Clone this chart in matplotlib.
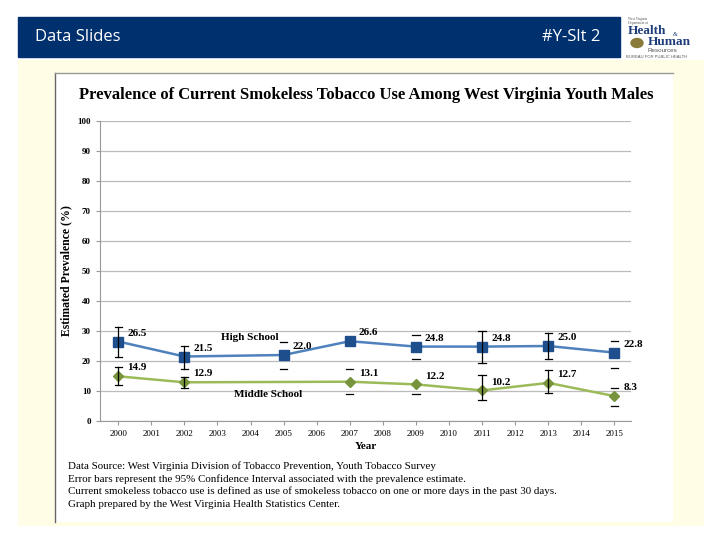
import numpy as np
import matplotlib.pyplot as plt
from matplotlib.patches import Rectangle

# survey data
years = np.arange(2000, 2016)
hs_years = [2000, 2002, 2005, 2007, 2009, 2011, 2013, 2015]
hs_vals = [26.5, 21.5, 22.0, 26.6, 24.8, 24.8, 25.0, 22.8]
hs_lo = [21.4, 17.5, 17.3, np.nan, 20.7, 19.3, 20.7, 17.7]
hs_hi = [31.3, 25.0, 26.3, np.nan, 28.7, 30.0, 29.3, 26.7]
ms_years = [2000, 2002, 2007, 2009, 2011, 2013, 2015]
ms_vals = [14.9, 12.9, 13.1, 12.2, 10.2, 12.7, 8.3]
ms_lo = [12.0, 11.0, 9.0, 9.0, 7.0, 9.3, 5.0]
ms_hi = [18.0, 14.7, 17.3, np.nan, 15.3, 17.0, 11.0]
# years where the bar line itself shows (others show only the caps)
full_bar_years = [2000, 2002, 2011, 2013]

notes = [
    "Data Source: West Virginia Division of Tobacco Prevention, Youth Tobacco Survey",
    "Error bars represent the 95% Confidence Interval associated with the prevalence estimate.",
    "Current smokeless tobacco use is defined as use of smokeless tobacco on one or more days in the past 30 days.",
    "Graph prepared by the West Virginia Health Statistics Center.",
]

serif = 'Liberation Serif'
fig = plt.figure(figsize=(7.2, 5.4), dpi=100)
W, H = 720, 540


def px(x, y):
    return x / W, 1 - y / H


# cream panel + white chart box
fig.patches.append(Rectangle((18 / W, 1 - 525 / H), 685 / W, 465 / H,
                             transform=fig.transFigure, color='#fffde6', zorder=0))
fig.patches.append(Rectangle((55 / W, 1 - 522 / H), 618 / W, 449 / H,
                             transform=fig.transFigure, facecolor='white',
                             edgecolor='none', zorder=0))
fig.add_artist(plt.Line2D([55 / W, 55 / W], [1 - 522 / H, 1 - 73 / H],
                          transform=fig.transFigure, color='#666666', lw=1))
fig.add_artist(plt.Line2D([55 / W, 673 / W], [1 - 73 / H, 1 - 73 / H],
                          transform=fig.transFigure, color='#999999', lw=1))

# header bar
fig.patches.append(Rectangle((18 / W, 1 - 57 / H), 602 / W, 40 / H,
                             transform=fig.transFigure, color='#00306e', zorder=1))
fig.text(*px(35, 37), "Data Slides", color='white', fontsize=12,
         family='Open Sans', va='center')
fig.text(*px(600, 37), "#Y-Slt 2", color='white', fontsize=12,
         family='Open Sans', va='center', ha='right')
# logo (text stand-in)
fig.text(*px(628, 21), "West Virginia\nDepartment of", color='#555555', fontsize=2.5,
         family=serif, va='center', linespacing=1)
fig.text(*px(628, 31), "Health", color='#1f3d7a', fontsize=9.5, weight='bold',
         family=serif, va='center')
fig.text(*px(673, 34), "&", color='#1f3d7a', fontsize=4.5, family=serif, va='center')
fig.text(*px(648, 42), "Human", color='#1f3d7a', fontsize=9.5, weight='bold',
         family=serif, va='center')
fig.add_artist(plt.Circle(px(637, 43), 6 / W, transform=fig.transFigure,
                          color='#8a7a3a'))
fig.text(*px(648, 51), "Resources", color='#555555', fontsize=4.5,
         family='Liberation Sans', va='center')
fig.text(*px(626, 57), "BUREAU FOR PUBLIC HEALTH", color='#555555', fontsize=3,
         family='Liberation Sans', va='center')

# chart
ax = fig.add_axes([100 / W, 1 - 421 / H, 531 / W, 300 / H])
ax.set_zorder(2)
ax.patch.set_alpha(0)
ax.set_xlim(1999.45, 2015.5)
ax.set_ylim(0, 100)
ax.set_yticks(range(0, 101, 10))
ax.set_xticks(years)
ax.grid(axis='y', color='#bbbbbb', lw=0.9)
ax.set_axisbelow(True)
for s in ['top', 'right']:
    ax.spines[s].set_visible(False)
for s in ['left', 'bottom']:
    ax.spines[s].set_color('#999999')
ax.tick_params(colors='#999999', labelcolor='black', labelsize=6.5, length=3)
for lab in ax.get_xticklabels() + ax.get_yticklabels():
    lab.set_family(serif)
for lab in ax.get_yticklabels():
    lab.set_weight('bold')

ax.plot(hs_years, hs_vals, color='#4f81bd', lw=1.8, marker='s', ms=7.5,
        mfc='#1f4e8c', mec='#1f4e8c', zorder=3)
ax.plot(ms_years, ms_vals, color='#9bbb59', lw=1.8, marker='D', ms=5,
        mfc='#77933c', mec='#77933c', zorder=3)


def draw_bars(xs, lo, hi):
    for x, l, h in zip(xs, lo, hi):
        for v in (l, h):
            if not np.isnan(v):
                ax.plot([x - 0.11, x + 0.11], [v, v], color='black', lw=0.9, zorder=4)
        if x in full_bar_years and not np.isnan(l) and not np.isnan(h):
            ax.plot([x, x], [l, h], color='black', lw=0.9, zorder=4)


draw_bars(hs_years, hs_lo, hs_hi)
draw_bars(ms_years, ms_lo, ms_hi)

for x, v in zip(hs_years, hs_vals):
    ax.annotate(f"{v:.1f}", (x, v), xytext=(6.5, 6), textcoords='offset points',
                fontsize=8, weight='bold', family=serif, va='center', ha='left')
for x, v in zip(ms_years, ms_vals):
    ax.annotate(f"{v:.1f}", (x, v), xytext=(6.5, 6), textcoords='offset points',
                fontsize=8, weight='bold', family=serif, va='center', ha='left')

ax.text(2003.1, 28.0, "High School", fontsize=8, weight='bold', family=serif,
        va='center')
ax.text(2003.5, 8.8, "Middle School", fontsize=8, weight='bold', family=serif,
        va='center')

ax.set_xlabel("Year", fontsize=8, weight='bold', family=serif, labelpad=3)
ax.set_ylabel("Estimated Prevalence (%)", fontsize=8.5, weight='bold',
              family=serif, labelpad=4)

fig.text(*px(366, 95),
         "Prevalence of Current Smokeless Tobacco Use Among West Virginia Youth Males",
         fontsize=12.0, weight='bold', family=serif, ha='center', va='center')

for i, line in enumerate(notes):
    fig.text(*px(68, 466 + i * 12.8), line, fontsize=7.9, family=serif, va='center')

fig.savefig('out.png', dpi=100)
